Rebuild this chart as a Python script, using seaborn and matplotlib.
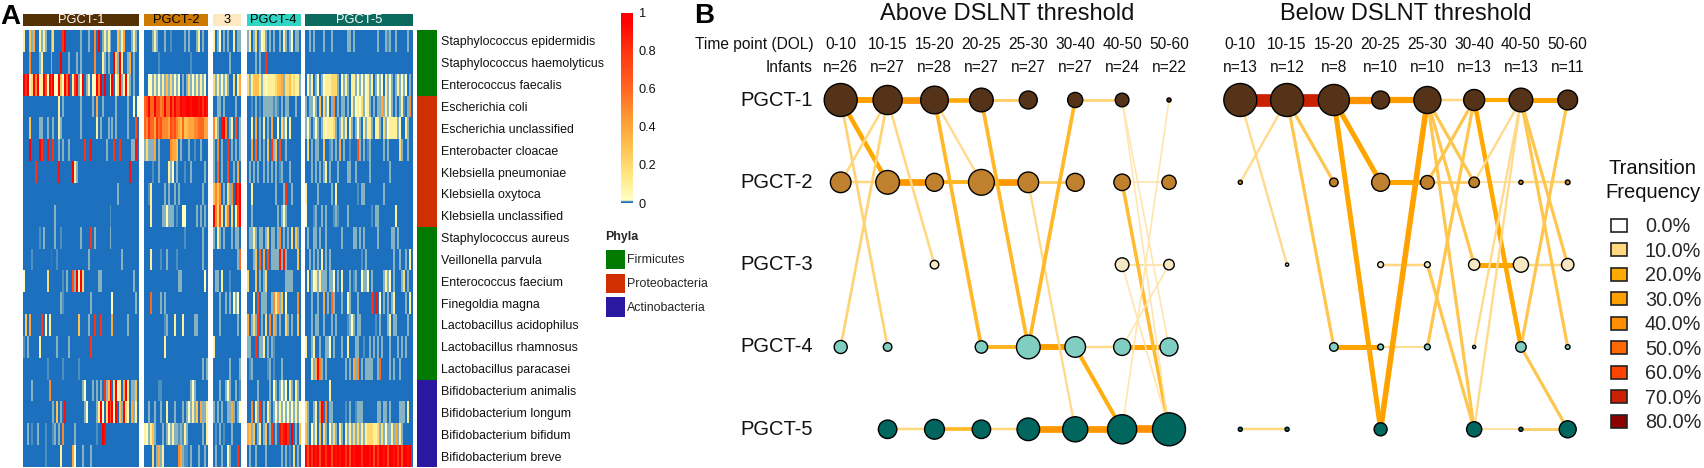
import numpy as np
import pandas as pd
import matplotlib
matplotlib.use("Agg")
import matplotlib.pyplot as plt
from matplotlib.colors import LinearSegmentedColormap, ListedColormap
from matplotlib.patches import Patch
import seaborn as sns

sns.set_style("white")
plt.rcParams['font.family'] = ['Liberation Sans', 'DejaVu Sans']

W, H = 1704, 468

species = ["Staphylococcus epidermidis", "Staphylococcus haemolyticus", "Enterococcus faecalis",
           "Escherichia coli", "Escherichia unclassified", "Enterobacter cloacae",
           "Klebsiella pneumoniae", "Klebsiella oxytoca", "Klebsiella unclassified",
           "Staphylococcus aureus", "Veillonella parvula", "Enterococcus faecium",
           "Finegoldia magna", "Lactobacillus acidophilus", "Lactobacillus rhamnosus",
           "Lactobacillus paracasei", "Bifidobacterium animalis", "Bifidobacterium longum",
           "Bifidobacterium bifidum", "Bifidobacterium breve"]
phyla = ["Firmicutes", "Proteobacteria", "Actinobacteria"]
species_phylum = [0, 0, 0, 1, 1, 1, 1, 1, 1, 0, 0, 0, 0, 0, 0, 0, 2, 2, 2, 2]

# abundance per sample: . = 0, : and ~ = trace, 0 = very low, 1-9 = tenths, x = 1
pgct1_rows = [
    "1..3~4..1~1~..~2....8x.......~...~..5.x.~1~1~...3~14...~1~",
    "...5....~1....~....x...~...~.~......5...1~.~..x2~x1..~4.~.",
    "x8x02x5x01x70x7x00x30x6x.18x~0x.~1.00x5x.x..1x.02x~1x0~.~.",
    "..................1.~........~.....~.4..~......~.....~..0.0",
    "...3....~~..~..~..1~.........~.......1.~...~.~.~.....~...7.",
    "...x....x8..9..8..~.~..~.......8..9.......~...8..8.....~~9.",
    "......8...........9......x1~..........................9...",
    "................................................~.........",
    "................~...........................:.............",
    "........:.~.....~..:.........~....8.~.......~.............",
    "....:.........8..:...............~................~......",
    "0...........2.......:.~..7~x0x2.......~~................~.",
    "...................~:.............~..........0...........~",
    ".3.4.....8.0.1..............3....~..8..8.....4.......~....",
    ":.~.....1........~.....~..........8.......................",
    "............:.......:.......:.............................",
    "....~........5................~0...~.~.~.8~3x.2x01.4x1.~~3",
    "...............~.3.~.9.........~0....~1x0.2x7x0x.3~x20.4~1",
    "..~.:..~...:...:~.~.5.....~..........:..x9................",
    "...........:.......1.....40...~...~.......................",
]
pgct2_rows = [
    "....~1~...~..:......~.~...~1.~..",
    ".......:...............:........",
    "..00~1~0~1~3~2~0~0.~.~2~0~1~1~0.",
    "67x66x7756x66x7x88x99xx9xxx9x8x9",
    "65866486755547675436334445566644",
    "~2~~~4.~.....5443.~...~..:..~...",
    "....:..~....1~0.~...:..~......~.",
    "..:1......~.~..~.~...........~..",
    "...1.....~~0~~~.:..00.....~.~.~.",
    "....................:........~..",
    "...1....:..~....:............~..",
    ".................~~...........0.",
    "...6....~.~.....................",
    "..........:~...1...1.....~~.....",
    "..........1.....................",
    ".............................~.~",
    ".......::..............~0~......",
    "..~..~..~..1...~...~.~0~1~3.4~~1",
    "10~13~...~.~0~1~~:~:1~.......~.1",
    "....2.~4~1.......54~::.~...~..~.",
]
pgct3_rows = [
    "1.~0.~.~..1.~~",
    "........~.....",
    "2~1~0~1~..2.14",
    "..~~.~.....~..",
    "51~.9x5.~1.7.~",
    "~.5.~..8.~.~.~",
    "~.6.~..7..~.4.",
    "3535.~.2~5.x8x",
    "x5271.25.2.17x",
    "~.1~.~...~.~~.",
    "............~6",
    ".~~.1...:.....",
    "...~..~.~.0~0.",
    "...~........~.",
    "1.............",
    "........~....~",
    "...~..~0~..~.:",
    "~.~.~..~~4~.~0",
    ".:.~.:...~....",
    ".~..~..0~...8.",
]
pgct4_rows = [
    "~1.~2.~01~.~.~..~.1~.~0.~~.",
    "....~.~..8.................",
    "2~13331~1011112334~2231211~",
    "..:.~.:.~~~~~:~:.~.~~...~..",
    "..1.4.~.1.~.4..0.2~0.1.....",
    "..4.6.~.~.3.8~3.7..~.......",
    ".~.~.~..~.~.~.~.:~...~.....",
    "..1...........~...~8..~....",
    "..~............~.~0~.......",
    ".~~1~.~~.~2.~~.~5.~.~.2.3~.",
    "...~3.6.4.7.~~~~9~9~.....3.",
    "2...3.~.~2.........~~~~....",
    "...0.7.~~~..~514~3.0.....5.",
    "4.~2~8.~.2.5.4~.~..2~.~..3.",
    "~~..8.~~1.~.~:.............",
    ".:~.......:~.:...~.........",
    ".....~.....~.0~.~0~0.1~.1~.",
    "..5.1~8.~.1~.~0~1~0~0~0~1~0",
    "43~3.~1.~3.~8.~.989x8.x.~.3",
    ".~..~....~.......~.~.:.2.~.",
]
pgct5_rows = [
    "..~.~....~...~.......~~.~...........~...~:~..~.....~..",
    "......................................................",
    ".0~1.~0.~0111222~.0~1~.11~0~0~01~1.~0~0.1~0~.~1~0~0.~",
    "~.~~0~.3.2~0.~5.~.~~.~.1~0102~01~.~.~~4~1~0~.~.~1:.~5",
    "~0~.~0~.~101112~.~1~1.1~.~0~.1~11~.11~.2~01111~0..1~.",
    ".2.~.~~..3..:~.~.4.~..:...7~.~.:~......~.~.....2~..~.",
    "...~.~.~.~1.~...~....~~..~......~.........~..........",
    "1.....~......~.1..........:.~~.........~.............",
    "0...:~..~.~...:~:....~...........:.~~........1.......",
    ".~..~~.~..~.......~.....~~.~.~......~......~~.~......",
    "..~.~.~.1.~.~...............:.~.............~..~..~.1",
    ".1.~01~1~~~.~~0.~.1...~.:~..0~~0.~.....~1~0.~...~2.~.",
    "...~..~..4.~.6~...~..0~...~......8.9.0.~.~.~1.....~.1",
    "...~.~~..~...~.~.....:~0~.~~.......:.~...~1.~~.....~.",
    "1..~1..~..~~0.~...~..1...~~..:..~.~.~.~...~...~.~.~..",
    "...1~4x5~.~.........~.~.4~5.~.~~~~..~6....~.~..~.....",
    "............1.........................................",
    "2~..~1.5x.5.~~......:.~..:~~~.......~~.~~.~....~~~.1.",
    "3~.0~1.3.2~.0~2~.1~.1~1~2~2~1~1222112~2~0~~1~4~1~....",
    "x7x8x9x7xx8xx7x9x9xx8x7x9xxx8xxx9x7x8xx9x7xx9x8x7xx9x",
]
group_names = ["PGCT-1", "PGCT-2", "3", "PGCT-4", "PGCT-5"]
group_rows = [pgct1_rows, pgct2_rows, pgct3_rows, pgct4_rows, pgct5_rows]

time_points = ["0-10", "10-15", "15-20", "20-25", "25-30", "30-40", "40-50", "50-60"]
above_n = [26, 27, 28, 27, 27, 27, 24, 22]
below_n = [13, 12, 8, 10, 10, 13, 13, 11]
states = ["PGCT-1", "PGCT-2", "PGCT-3", "PGCT-4", "PGCT-5"]

# share of infants (%) per state and time point, nan = no node
nan = np.nan
above_nodes = [
    [64, 50, 45, 33, 19, 13.5, 11, 1],
    [25, 33, 19, 39, 25, 19, 16, 12],
    [nan, nan, 4.3, nan, nan, nan, 11, 6.5],
    [10, 4.3, nan, 9, 33, 25, 17, 19],
    [nan, 20, 23, 20, 30, 37, 50, 64],
]
below_nodes = [
    [64, 64, 57, 19, 43, 26, 33, 23],
    [1, nan, 4.3, 19, 11, 6.5, 1, 1.3],
    [nan, 0.6, nan, 2, 2, 7.4, 13.5, 9],
    [nan, nan, 4.3, 2, 2, 0.6, 6.5, 1.3],
    [1, 1, nan, 10, nan, 13.5, 1, 17],
]

# transitions: from state, from time, to state, to time, frequency %
above_edges = [
    (0, 0, 0, 1, 30), (0, 1, 0, 2, 35), (0, 2, 0, 3, 22), (0, 3, 0, 4, 12), (0, 5, 0, 6, 11),
    (1, 0, 1, 1, 10), (1, 1, 1, 2, 35), (1, 2, 1, 3, 18), (1, 3, 1, 4, 35), (1, 4, 1, 5, 12), (1, 6, 1, 7, 5),
    (2, 6, 2, 7, 6),
    (3, 3, 3, 4, 18), (3, 4, 3, 5, 30), (3, 5, 3, 6, 9), (3, 6, 3, 7, 25),
    (4, 1, 4, 2, 10), (4, 2, 4, 3, 17), (4, 3, 4, 4, 10), (4, 4, 4, 5, 35), (4, 5, 4, 6, 35), (4, 6, 4, 7, 40),
    (0, 0, 1, 1, 22), (0, 0, 3, 1, 11), (1, 0, 0, 1, 10), (3, 0, 0, 1, 11), (0, 1, 2, 2, 10),
    (0, 2, 3, 3, 17), (0, 2, 1, 3, 9), (0, 3, 3, 4, 17), (1, 4, 4, 5, 9), (3, 4, 0, 5, 17),
    (3, 5, 4, 6, 19), (1, 6, 4, 7, 16), (0, 6, 3, 7, 5), (0, 6, 4, 7, 5), (4, 6, 0, 7, 5),
    (2, 6, 4, 7, 5), (3, 6, 2, 7, 5),
]
below_edges = [
    (0, 0, 0, 1, 70), (0, 1, 0, 2, 70), (0, 2, 0, 3, 38), (0, 3, 0, 4, 32), (0, 4, 0, 5, 10),
    (0, 5, 0, 6, 20), (0, 6, 0, 7, 25),
    (1, 3, 1, 4, 25), (1, 4, 1, 5, 12), (1, 5, 1, 6, 6), (1, 6, 1, 7, 10),
    (2, 3, 2, 4, 10), (2, 5, 2, 6, 25), (2, 6, 2, 7, 10),
    (3, 2, 3, 3, 25), (3, 3, 3, 4, 8),
    (4, 0, 4, 1, 10), (4, 5, 4, 6, 7), (4, 6, 4, 7, 12),
    (0, 0, 2, 1, 9), (1, 0, 0, 1, 9), (0, 1, 3, 2, 14), (0, 1, 1, 2, 14), (0, 2, 4, 3, 25),
    (0, 2, 1, 3, 25), (4, 3, 0, 4, 28), (0, 4, 4, 5, 14), (0, 4, 1, 5, 14), (0, 4, 2, 5, 14),
    (1, 4, 0, 5, 14), (3, 4, 0, 5, 14), (2, 4, 4, 5, 14), (0, 5, 3, 6, 22), (1, 5, 0, 6, 9),
    (4, 5, 0, 6, 9), (3, 5, 0, 6, 9), (0, 6, 3, 7, 14), (0, 6, 2, 7, 14), (3, 6, 0, 7, 14),
    (3, 6, 4, 7, 14),
]
legend_freqs = [0, 10, 20, 30, 40, 50, 60, 70, 80]

char_vals = {'.': 0.0, ':': 0.008, '~': 0.010, '0': 0.02, 'x': 1.0}
for d in range(1, 10):
    char_vals[str(d)] = d / 10

blue = "#1c70bd"
heat_cmap = LinearSegmentedColormap.from_list("abund", [
    (0.0, blue), (0.006, blue), (0.014, "#ffffc4"), (0.15, "#ffe680"), (0.3, "#ffc04d"),
    (0.45, "#ff9933"), (0.6, "#ff6620"), (0.8, "#ff3311"), (0.95, "#ff0000"), (1.0, "#ff0000")], N=2048)
freq_cmap = LinearSegmentedColormap.from_list("freq", [
    (0.0, "#ffffff"), (0.05, "#ffe8b8"), (0.125, "#ffd780"), (0.25, "#ffaa00"), (0.375, "#ffa000"), (0.5, "#ff9000"),
    (0.625, "#ff6a00"), (0.75, "#ff4500"), (0.875, "#cc2200"), (1.0, "#8b0000")])
state_colors = dict(zip(states, ["#543319", "#bf812d", "#f6e8c3", "#80cdc1", "#01665e"]))
strip_colors = ["#543005", "#cc7a00", "#fde8c0", "#2fd6c4", "#0b6b5e"]
strip_text = ["white", "black", "black", "black", "white"]
phyla_colors = ["#007a00", "#d03000", "#2a18a0"]
ink = "#111111"

fig = plt.figure(figsize=(W / 100, H / 100), dpi=100)


def px_axes(x0, y0, x1, y1):
    return fig.add_axes([x0 / W, 1 - y1 / H, (x1 - x0) / W, (y1 - y0) / H])


# panel A
group_x = [(23, 139), (144, 207.7), (212.7, 241.3), (246.7, 300.7), (305.3, 412.7)]
cax = px_axes(620.7, 12.7, 633.3, 203)
for i, rows in enumerate(group_rows):
    n = max(len(r) for r in rows)
    mat = np.array([[char_vals[c] for c in r.ljust(n, '.')] for r in rows])
    ax = px_axes(group_x[i][0], 30, group_x[i][1], 467)
    sns.heatmap(pd.DataFrame(mat), ax=ax, cmap=heat_cmap, vmin=0, vmax=1, cbar=(i == 0),
                cbar_ax=cax if i == 0 else None, xticklabels=False, yticklabels=False,
                rasterized=True, cbar_kws={"ticks": [0, 0.2, 0.4, 0.6, 0.8, 1]})
    if i == 0:
        cb = ax.collections[0].colorbar
        cb.set_ticklabels(["0", "0.2", "0.4", "0.6", "0.8", "1"])
        cb.outline.set_visible(False)
        cax.tick_params(length=0, labelsize=9.2, pad=4, labelcolor=ink)
    hax = px_axes(group_x[i][0], 13.5, group_x[i][1], 26)
    hax.set_facecolor(strip_colors[i])
    hax.set_xticks([])
    hax.set_yticks([])
    sns.despine(ax=hax, left=True, bottom=True)
    hax.text(0.5, 0.46, group_names[i], color=strip_text[i], fontsize=9.3, ha="center", va="center",
             transform=hax.transAxes)

side = px_axes(417.3, 30, 436.7, 467)
sns.heatmap(pd.DataFrame({"phylum": species_phylum}), ax=side, cmap=ListedColormap(phyla_colors), cbar=False,
            vmin=0, vmax=2, xticklabels=False, yticklabels=species)
side.yaxis.tick_right()
side.tick_params(axis="y", length=0, pad=3, labelsize=8.9, rotation=0, labelcolor=ink)

handles = [Patch(facecolor=c, edgecolor="none", label=p) for c, p in zip(phyla_colors, phyla)]
leg = fig.legend(handles=handles, title="Phyla", loc="upper left", bbox_to_anchor=(605.5 / W, 1 - 231 / H),
                 frameon=False, fontsize=8.9, borderpad=0, borderaxespad=0, handlelength=1.57, handleheight=2.1,
                 handletextpad=0.2, labelspacing=0.33,
                 title_fontproperties={"weight": "bold", "size": 8.9})
leg._legend_box.align = "left"
leg._legend_box.sep = 4.7

fig.text(0 / W, 1 - 24 / H, "A", fontsize=20, fontweight="bold", color="black")
fig.text(694 / W, 1 - 23 / H, "B", fontsize=20, fontweight="bold", color="black")


# panel B
def draw_network(box, nodes, edges, counts, title, title_x, with_labels):
    ax = px_axes(*box)
    ax.set_xlim(0, 7)
    ax.set_ylim(4, 0)
    for s0, t0, s1, t1, f in edges:
        ax.plot([t0, t1], [s0, s1], color=freq_cmap(f / 80), lw=(0.8 + 0.17 * f) * 0.72, solid_capstyle="butt",
                zorder=1, clip_on=False)
    df = pd.DataFrame(nodes, index=states, columns=range(8)).rename_axis("state").reset_index()
    df = df.melt(id_vars="state", var_name="time", value_name="share").dropna()
    df["row"] = df["state"].map({s: i for i, s in enumerate(states)})
    df["time"] = df["time"].astype(int)
    sns.scatterplot(data=df, x="time", y="row", hue="state", palette=state_colors, size="share",
                    sizes=(0, 881), size_norm=(0, 100), edgecolor="black", linewidth=1.0,
                    legend=False, ax=ax, zorder=3, clip_on=False)
    ax.set_xlim(0, 7)
    ax.set_ylim(4, 0)
    ax.axis("off")
    for t, lab in enumerate(time_points):
        ax.text(t, -0.675, lab, ha="center", va="center", fontsize=11.2, color=ink)
        ax.text(t, -0.40, "n=%d" % counts[t], ha="center", va="center", fontsize=11.2, color=ink)
    ax.text(title_x, -1.04, title, ha="center", va="center", fontsize=17, color=ink)
    if with_labels:
        ax.text(-0.57, -0.675, "Time point (DOL)", ha="right", va="center", fontsize=11.2, color=ink)
        ax.text(-0.61, -0.40, "Infants", ha="right", va="center", fontsize=11.2, color=ink)
        for i, s in enumerate(states):
            ax.text(-0.59, i, s, ha="right", va="center", fontsize=14.5, color=ink)
    return ax


draw_network((840.7, 100, 1169, 429.3), above_nodes, above_edges, above_n, "Above DSLNT threshold", 3.54, True)
draw_network((1240.3, 100, 1567.7, 429.3), below_nodes, below_edges, below_n, "Below DSLNT threshold", 3.53, False)

freq_handles = [Patch(facecolor=freq_cmap(f / 80), edgecolor="#222222", linewidth=1.2, label="%.1f%%" % f)
                for f in legend_freqs]
leg2 = fig.legend(handles=freq_handles, loc="upper left", bbox_to_anchor=(1611 / W, 1 - 217 / H), frameon=False,
                  fontsize=14.3, borderpad=0, borderaxespad=0, handlelength=0.81, handleheight=0.63,
                  handletextpad=0.9, labelspacing=0.28)
fig.text(1652.7 / W, 1 - 180.5 / H, "Transition\nFrequency", fontsize=14.5, color=ink, ha="center", va="center",
         linespacing=1.3)

fig.savefig("out.png", dpi=100)
